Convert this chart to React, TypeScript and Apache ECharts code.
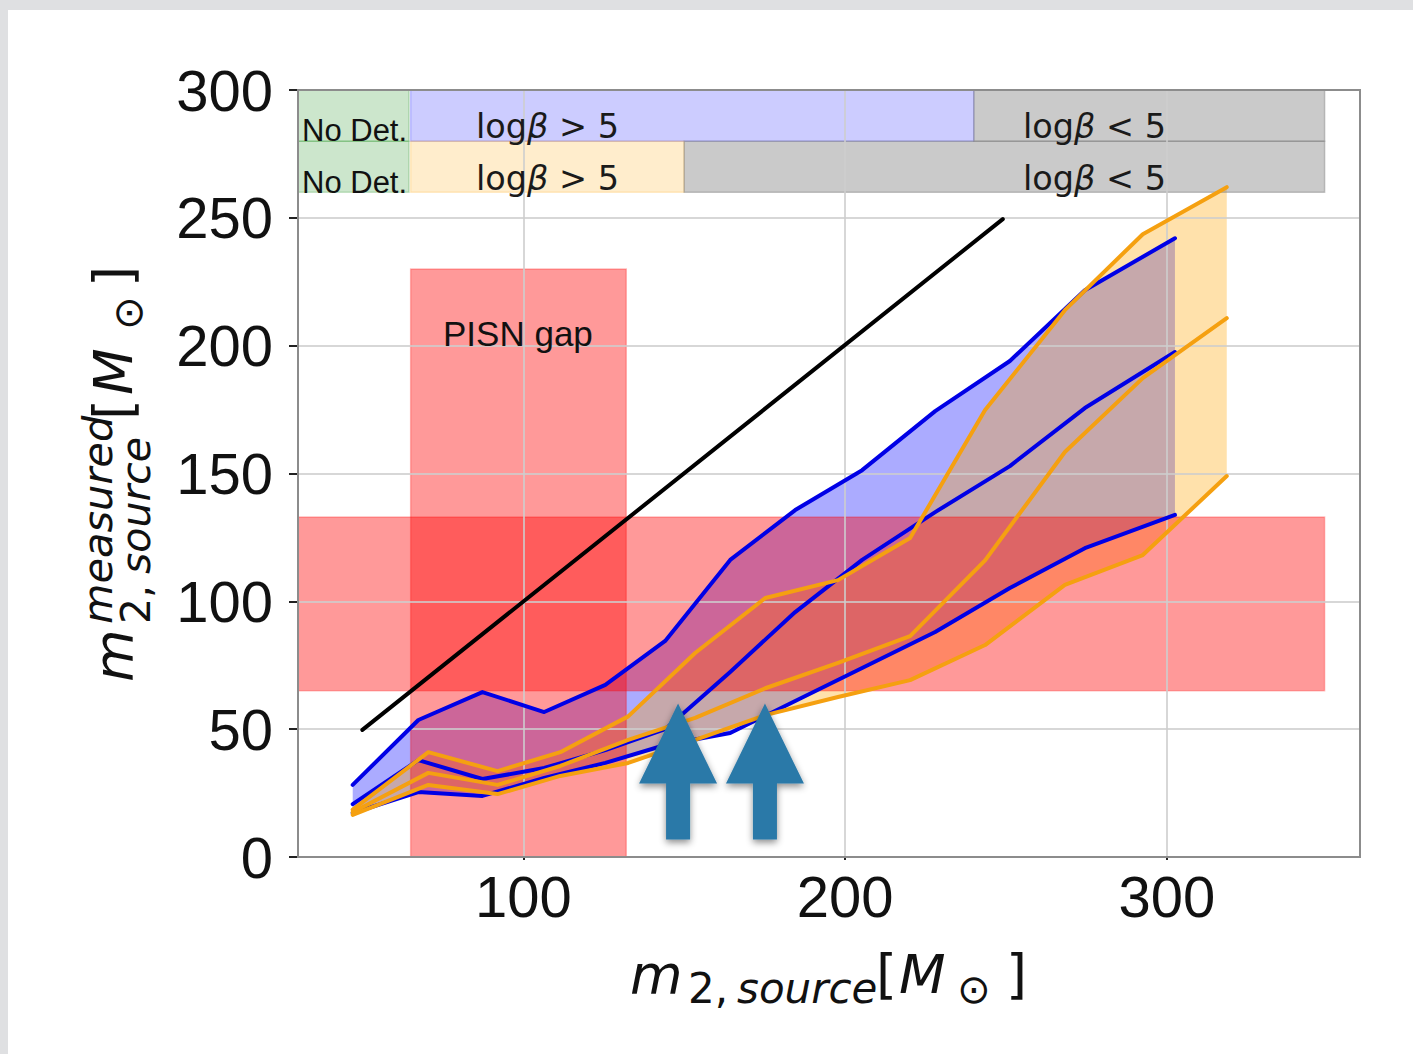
import React, { useEffect, useRef } from "react";
import * as echarts from "echarts";

const xBlue = [47, 67.4, 87.3, 106.5, 125.5, 144.1, 164.3, 184.5, 205.3, 228, 251.2, 274.5, 302.5];
const blueUpper = [28.2, 53.6, 64.5, 56.7, 67.3, 84.5, 116.2, 135.7, 151.3, 174.4, 194, 221.7, 242];
const blueMid = [20.7, 37.9, 30.5, 34.8, 41.8, 50, 72.4, 95.8, 116.2, 134.9, 152.9, 175.6, 197.5];
const blueLower = [17.2, 25.4, 23.9, 30.9, 36.8, 43.8, 48.5, 61, 73.9, 88, 105.2, 120.8, 133.8];

const xOrange = [47, 70.5, 92, 111.5, 132.6, 153.4, 175.2, 197.8, 220.2, 243.5, 268.3, 292.5, 318.6];
const orangeUpper = [18.5, 41, 33.6, 41, 55, 79.8, 101.3, 108.3, 124.8, 174.8, 213.9, 243.6, 262];
const orangeMid = [17.5, 32.9, 28.2, 35.6, 45.8, 54.4, 66, 75.9, 86.4, 116, 158.4, 187.3, 210.8];
const orangeLower = [16.5, 28.2, 24.6, 31.7, 36.8, 45.8, 55.5, 62.6, 69.2, 82.9, 106.4, 118.1, 149];

const identityLine = [[50, 49.7], [249, 249.5]];
const xTicks = [100, 200, 300];
const arrowXs = [148.1, 175.1];
const arrowTip = 60;

// [xStart, xEnd, yStart, yEnd]
const pisnZones = [[65, 132, 0, 230], [30, 349, 65, 133]];
const greenZones = [[30, 64.5, 280, 300], [30, 64.5, 260, 280]];
const blueZones = [[65, 240, 280, 300]];
const orangeZones = [[65, 150, 260, 280]];
const grayZones = [[240, 349, 280, 300], [150, 349, 260, 280]];

const SANS = "Liberation Sans";
const MATH = "DejaVu Sans";

const zip = (xs: number[], ys: number[]) => xs.map((x, i) => [x, ys[i]]);

function zoneSeries(data: number[][], fill: string, stroke: string) {
  return {
    type: "custom",
    silent: true,
    data,
    z: 3,
    renderItem: (_: any, api: any) => {
      const a = api.coord([api.value(0), api.value(2)]);
      const b = api.coord([api.value(1), api.value(3)]);
      return {
        type: "rect",
        shape: { x: a[0], y: b[1], width: b[0] - a[0], height: a[1] - b[1] },
        style: { fill, stroke, lineWidth: 1.5 },
      };
    },
    encode: { x: [0, 1], y: [2, 3] },
  };
}

function bandSeries(xs: number[], upper: number[], lower: number[], fill: string) {
  return {
    type: "custom",
    silent: true,
    data: [0],
    z: 2,
    renderItem: (_: any, api: any) => {
      const top = xs.map((x, i) => api.coord([x, upper[i]]));
      const bottom = xs.map((x, i) => api.coord([x, lower[i]])).reverse();
      return { type: "polygon", shape: { points: [...top, ...bottom] }, style: { fill } };
    },
  };
}

function lineSeries(data: number[][], color: string, width: number, z = 5) {
  return {
    type: "line",
    data,
    showSymbol: false,
    silent: true,
    z,
    lineStyle: { color, width, cap: "round", join: "round" },
  };
}

function logText(x: number, y: number, op: string) {
  return {
    type: "text",
    x,
    y,
    z: 20,
    style: {
      text: `{a|log}{b|β}{a| ${op} 5}`,
      rich: {
        a: { fontFamily: MATH, fontSize: 33.5, fill: "#1a1a1a" },
        b: { fontFamily: MATH, fontSize: 33.5, fontStyle: "italic", fill: "#1a1a1a" },
      },
      verticalAlign: "middle",
    },
  };
}

function baselineText(text: string, x: number, baseline: number, size: number, family: string, italic = false) {
  return {
    type: "text",
    x,
    y: baseline + size * 0.24,
    z: 20,
    style: {
      text,
      fontFamily: family,
      fontSize: size,
      fontStyle: italic ? "italic" : "normal",
      fill: "#111",
      verticalAlign: "bottom",
    },
  };
}

export default function App() {
  const ref = useRef<HTMLDivElement>(null);
  useEffect(() => {
    if (!ref.current) return;
    const chart = echarts.init(ref.current, undefined, { renderer: "svg" });
    const grid = "rgba(205,205,205,0.8)";
    chart.setOption({
      animation: false,
      backgroundColor: "transparent",
      grid: { left: 298, top: 90, width: 1062, height: 767, show: false },
      xAxis: {
        type: "value",
        min: 30,
        max: 360,
        z: 4,
        axisLine: { show: false },
        axisTick: { show: true, length: 3, customValues: xTicks, lineStyle: { color: "#222", width: 2 } },
        axisLabel: { customValues: xTicks, fontFamily: SANS, fontSize: 58, color: "#111", margin: 10 },
        splitLine: { show: true, lineStyle: { color: grid, width: 2 } },
      },
      yAxis: {
        type: "value",
        min: 0,
        max: 300,
        interval: 50,
        z: 4,
        axisLine: { show: false },
        axisTick: { show: true, length: 9, lineStyle: { color: "#222", width: 2 } },
        axisLabel: { fontFamily: SANS, fontSize: 58, color: "#111", margin: 25, padding: [0, 0, 8, 0] },
        splitLine: { show: true, lineStyle: { color: grid, width: 2 } },
      },
      series: [
        bandSeries(xBlue, blueUpper, blueLower, "rgba(0,0,255,0.33)"),
        bandSeries(xOrange, orangeUpper, orangeLower, "rgba(255,165,0,0.33)"),
        zoneSeries(pisnZones, "rgba(255,0,0,0.4)", "rgba(255,0,0,0.25)"),
        zoneSeries(greenZones, "rgba(0,128,0,0.2)", "rgba(0,128,0,0.2)"),
        zoneSeries(blueZones, "rgba(0,0,255,0.2)", "rgba(0,0,255,0.2)"),
        zoneSeries(orangeZones, "rgba(255,165,0,0.2)", "rgba(255,165,0,0.2)"),
        zoneSeries(grayZones, "rgba(128,128,128,0.42)", "rgba(128,128,128,0.45)"),
        lineSeries(identityLine, "#000", 4),
        lineSeries(zip(xBlue, blueUpper), "#0000e6", 4),
        lineSeries(zip(xBlue, blueMid), "#0000e6", 4),
        lineSeries(zip(xBlue, blueLower), "#0000e6", 4),
        lineSeries(zip(xOrange, orangeUpper), "#f5a010", 4, 6),
        lineSeries(zip(xOrange, orangeMid), "#f5a010", 4, 6),
        lineSeries(zip(xOrange, orangeLower), "#f5a010", 4, 6),
        {
          type: "custom",
          silent: true,
          clip: false,
          z: 10,
          data: arrowXs.map((x) => [x, arrowTip]),
          renderItem: (_: any, api: any) => {
            const [cx, ty] = api.coord([api.value(0), api.value(1)]);
            const pts = [
              [0, 0], [39, 80], [12, 80], [12, 136], [-12, 136], [-12, 80], [-39, 80],
            ].map(([dx, dy]) => [cx + dx, ty + dy]);
            return {
              type: "polygon",
              shape: { points: pts },
              style: { fill: "#2b79a8", shadowColor: "rgba(0,0,0,0.45)", shadowBlur: 7, shadowOffsetY: 3 },
            };
          },
        },
      ],
      graphic: [
        {
          type: "rect",
          z: 15,
          shape: { x: 298, y: 90, width: 1062, height: 767 },
          style: { fill: "none", stroke: "#8c8c8c", lineWidth: 2 },
        },
        baselineText("No Det.", 302, 139, 31, SANS),
        baselineText("No Det.", 302, 191, 31, SANS),
        logText(476, 126, ">"),
        logText(476, 178, ">"),
        logText(1023, 126, "<"),
        logText(1023, 178, "<"),
        baselineText("PISN gap", 443, 343, 35, SANS),
        baselineText("m", 630, 989, 54, MATH, true),
        baselineText("2,", 688, 999, 42, MATH),
        baselineText("source", 737, 999, 42, MATH, true),
        baselineText("[", 876, 989, 54, MATH),
        baselineText("M", 899, 989, 54, MATH, true),
        baselineText("⊙", 957, 999, 40, MATH),
        baselineText("]", 1006, 989, 54, MATH),
        {
          type: "group",
          x: 128,
          y: 682,
          rotation: Math.PI / 2,
          children: [
            baselineText("m", 0, 0, 54, MATH, true),
            baselineText("measured", 58, -20, 41.5, MATH, true),
            baselineText("2,", 58, 19, 41, MATH),
            baselineText("source", 108, 19, 41, MATH, true),
            baselineText("[", 262, 0, 54, MATH),
            baselineText("M", 287, 0, 54, MATH, true),
            baselineText("⊙", 352, 10, 40, MATH),
            baselineText("]", 395, 0, 54, MATH),
          ],
        },
      ],
    });
    return () => chart.dispose();
  }, []);
  return (
    <div style={{ position: "fixed", inset: 0, background: "#dfe0e2", overflow: "hidden" }}>
      <div style={{ position: "absolute", left: 8, top: 10, right: 0, bottom: 0, background: "#fff" }} />
      <div ref={ref} style={{ position: "absolute", left: 0, top: 0, width: 1413, height: 1054 }} />
    </div>
  );
}
